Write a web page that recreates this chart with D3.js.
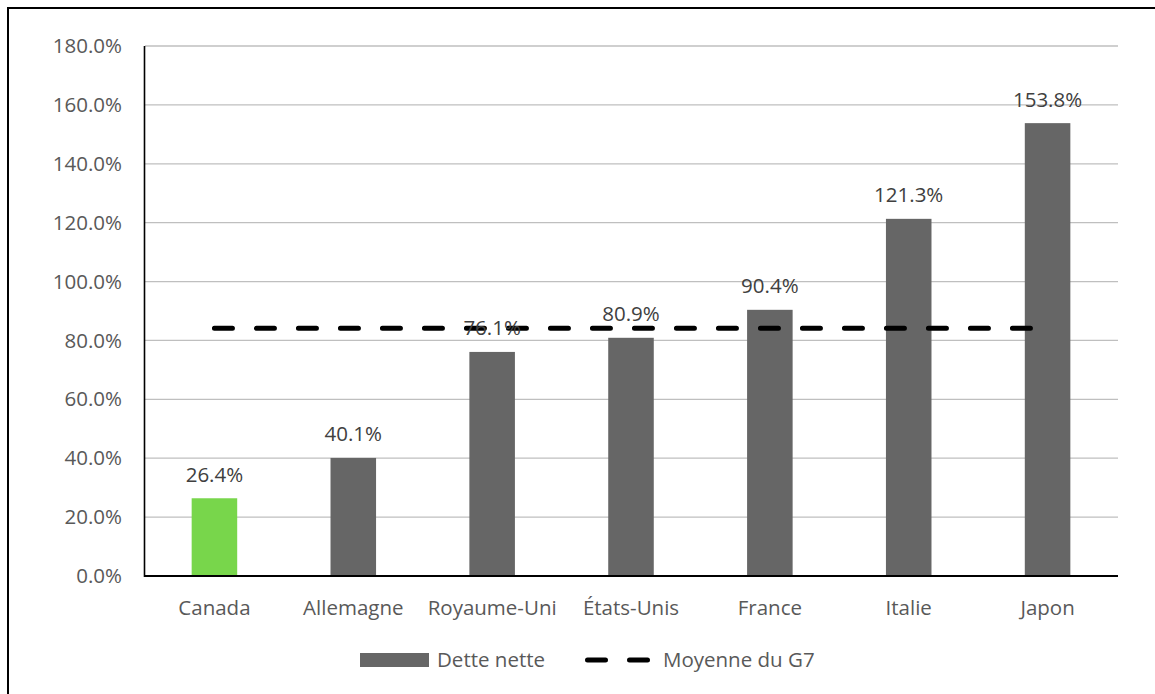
<!DOCTYPE html>
<html>
<head>
<meta charset="utf-8">
<script src="https://cdn.jsdelivr.net/npm/d3@7"></script>
<style>
  html, body { margin: 0; padding: 0; background: #fff; overflow: hidden; }
  text { font-family: "Open Sans", "Noto Sans", sans-serif; }
</style>
</head>
<body>
<svg id="chart" width="1155" height="694"></svg>
<script>
// Dette nette des pays du G7 (% du PIB)
const categories = ["Canada", "Allemagne", "Royaume-Uni", "États-Unis", "France", "Italie", "Japon"];
const netDebt = [26.4, 40.1, 76.1, 80.9, 90.4, 121.3, 153.8];
const g7Average = [84.1, 84.1, 84.1, 84.1, 84.1, 84.1, 84.1];
const yTicks = [0, 20, 40, 60, 80, 100, 120, 140, 160, 180];
const seriesNames = ["Dette nette", "Moyenne du G7"];

const FS = "20.5px";
const svg = d3.select("#chart");
const plot = { left: 145, right: 1117, top: 46, bottom: 576 };

// outer frame (extends past the page edge on the right and bottom)
svg.append("rect")
  .attr("x", 8).attr("y", 8).attr("width", 1300).attr("height", 900)
  .attr("fill", "#fff").attr("stroke", "#000").attr("stroke-width", 2);

const x = d3.scaleBand().domain(categories).range([plot.left, plot.right])
  .paddingInner(0.672).paddingOuter(0.336);
const y = d3.scaleLinear().domain([0, 180]).range([plot.bottom, plot.top]);

// horizontal gridlines
svg.append("g").selectAll("line").data(yTicks.filter(d => d > 0)).join("line")
  .attr("x1", plot.left).attr("x2", plot.right + 1)
  .attr("y1", d => y(d)).attr("y2", d => y(d))
  .attr("stroke", "#bfbfbf").attr("stroke-width", 1.3);

// y axis labels
const yAxis = d3.axisLeft(y).tickValues(yTicks).tickSize(0).tickPadding(23)
  .tickFormat(d => d.toFixed(1) + "%");
const gy = svg.append("g").attr("transform", `translate(${plot.left},0)`).call(yAxis);
gy.select(".domain").remove();
gy.selectAll("text").attr("fill", "#595959").style("font-size", FS)
  .style("font-family", "'Open Sans', sans-serif");

// bars
svg.append("g").selectAll("rect").data(categories).join("rect")
  .attr("x", d => x(d))
  .attr("width", x.bandwidth())
  .attr("y", (d, i) => y(netDebt[i]))
  .attr("height", (d, i) => y(0) - y(netDebt[i]))
  .attr("fill", (d, i) => i === 0 ? "#78d64b" : "#666666");

// axis lines
svg.append("line").attr("x1", plot.left - 0.5).attr("x2", plot.left - 0.5)
  .attr("y1", plot.top).attr("y2", plot.bottom + 1)
  .attr("stroke", "#000").attr("stroke-width", 1.6);
const xAxis = d3.axisBottom(x).tickSize(0).tickPadding(24);
const gx = svg.append("g").attr("transform", `translate(0,${plot.bottom})`).call(xAxis);
gx.select(".domain").attr("d", `M${plot.left - 1},0H${plot.right + 1}`)
  .attr("stroke", "#000").attr("stroke-width", 2);
gx.selectAll("text").attr("fill", "#595959").style("font-size", FS)
  .style("font-family", "'Open Sans', sans-serif");

// G7 average dashed line
const line = d3.line()
  .x((d, i) => x(categories[i]) + x.bandwidth() / 2)
  .y(d => y(d));
svg.append("path").datum(g7Average)
  .attr("d", line)
  .attr("fill", "none").attr("stroke", "#000").attr("stroke-width", 5)
  .attr("stroke-linecap", "round").attr("stroke-dasharray", "18,24");

// value labels
svg.append("g").selectAll("text").data(categories).join("text")
  .attr("x", d => x(d) + x.bandwidth() / 2)
  .attr("y", (d, i) => y(netDebt[i]) - 16.5)
  .attr("text-anchor", "middle")
  .attr("fill", "#404040").style("font-size", FS)
  .text((d, i) => netDebt[i].toFixed(1) + "%");

// legend
const lg = svg.append("g");
lg.append("rect").attr("x", 360).attr("y", 653).attr("width", 69).attr("height", 14)
  .attr("fill", "#666666");
lg.append("text").attr("x", 437).attr("y", 660).attr("dy", "0.35em")
  .attr("fill", "#595959").style("font-size", FS).text(seriesNames[0]);
lg.append("line").attr("x1", 587.5).attr("x2", 648).attr("y1", 660).attr("y2", 660)
  .attr("stroke", "#000").attr("stroke-width", 5).attr("stroke-linecap", "round")
  .attr("stroke-dasharray", "18,24");
lg.append("text").attr("x", 663).attr("y", 660).attr("dy", "0.35em")
  .attr("fill", "#595959").style("font-size", FS).text(seriesNames[1]);
</script>
</body>
</html>
